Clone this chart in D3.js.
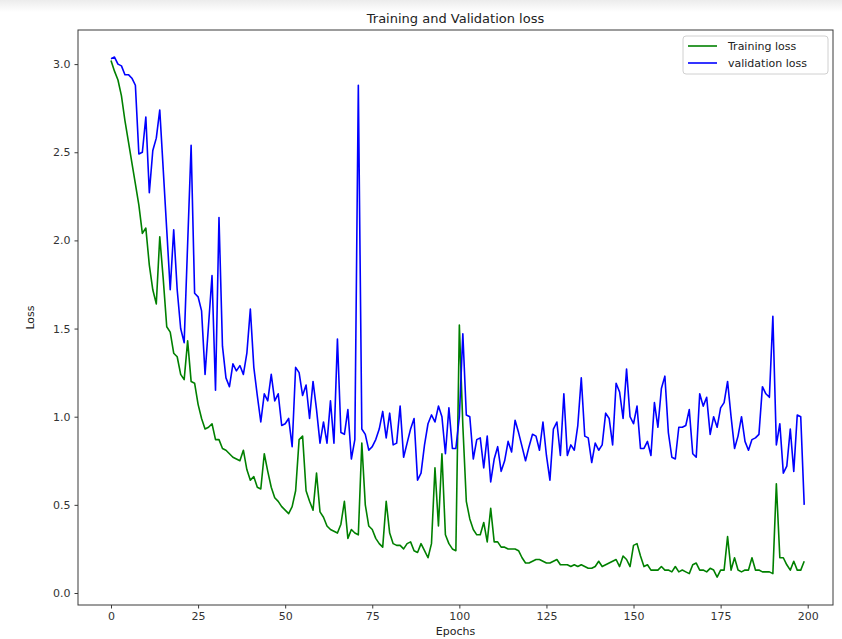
<!DOCTYPE html>
<html>
<head>
<meta charset="utf-8">
<script src="https://cdn.jsdelivr.net/npm/d3@7"></script>
<style>
  html, body { margin: 0; padding: 0; background: #ffffff; }
  svg { display: block; font-family: "DejaVu Sans", sans-serif; }
</style>
</head>
<body>
<svg id="chart" width="842" height="639"></svg>
<script>
const title = "Training and Validation loss";
const xLabel = "Epochs";
const yLabel = "Loss";
const seriesNames = ["Training loss", "validation loss"];
const xTicks = [0, 25, 50, 75, 100, 125, 150, 175, 200];
const yTicks = [0.0, 0.5, 1.0, 1.5, 2.0, 2.5, 3.0];

const trainingLoss = [
  3.02, 2.96, 2.91, 2.82, 2.68, 2.56, 2.44, 2.32, 2.20, 2.04,
  2.07, 1.86, 1.72, 1.64, 2.02, 1.78, 1.51, 1.48, 1.36, 1.34,
  1.24, 1.21, 1.43, 1.20, 1.19, 1.07, 0.99, 0.93, 0.94, 0.96,
  0.87, 0.87, 0.82, 0.81, 0.79, 0.77, 0.76, 0.75, 0.81, 0.70,
  0.64, 0.66, 0.60, 0.59, 0.79, 0.69, 0.60, 0.54, 0.52, 0.49,
  0.47, 0.45, 0.49, 0.58, 0.87, 0.89, 0.58, 0.52, 0.47, 0.68,
  0.46, 0.43, 0.38, 0.36, 0.35, 0.34, 0.39, 0.52, 0.31, 0.36,
  0.34, 0.33, 0.85, 0.50, 0.38, 0.36, 0.31, 0.28, 0.26, 0.52,
  0.34, 0.28, 0.27, 0.27, 0.25, 0.28, 0.29, 0.24, 0.23, 0.28,
  0.24, 0.20, 0.28, 0.71, 0.38, 0.79, 0.33, 0.28, 0.25, 0.24,
  1.52, 0.95, 0.52, 0.42, 0.36, 0.33, 0.33, 0.40, 0.29, 0.48,
  0.29, 0.29, 0.26, 0.26, 0.25, 0.25, 0.25, 0.24, 0.20, 0.17,
  0.17, 0.18, 0.19, 0.19, 0.18, 0.17, 0.17, 0.18, 0.19, 0.16,
  0.16, 0.16, 0.15, 0.16, 0.15, 0.16, 0.15, 0.14, 0.14, 0.15,
  0.18, 0.15, 0.16, 0.17, 0.18, 0.19, 0.15, 0.21, 0.19, 0.15,
  0.27, 0.28, 0.21, 0.15, 0.16, 0.13, 0.13, 0.13, 0.15, 0.13,
  0.13, 0.12, 0.15, 0.12, 0.13, 0.12, 0.11, 0.16, 0.17, 0.13,
  0.13, 0.12, 0.14, 0.13, 0.09, 0.13, 0.13, 0.32, 0.13, 0.20,
  0.13, 0.12, 0.13, 0.13, 0.20, 0.13, 0.13, 0.12, 0.12, 0.12,
  0.11, 0.62, 0.20, 0.20, 0.16, 0.13, 0.18, 0.13, 0.13, 0.18
];

const validationLoss = [
  3.03, 3.04, 3.00, 2.99, 2.94, 2.94, 2.92, 2.88, 2.49, 2.50,
  2.70, 2.27, 2.51, 2.58, 2.74, 2.40, 2.06, 1.72, 2.06, 1.72,
  1.50, 1.42, 1.98, 2.54, 1.70, 1.68, 1.60, 1.24, 1.52, 1.80,
  1.15, 2.13, 1.40, 1.22, 1.17, 1.30, 1.26, 1.29, 1.24, 1.36,
  1.61, 1.28, 1.12, 0.97, 1.13, 1.09, 1.24, 1.09, 1.13, 0.95,
  0.96, 0.99, 0.83, 1.28, 1.25, 1.12, 1.18, 0.99, 1.20, 1.04,
  0.85, 0.97, 0.85, 1.09, 0.85, 1.44, 0.91, 0.90, 1.04, 0.76,
  0.87, 2.88, 0.93, 0.90, 0.81, 0.83, 0.87, 0.93, 1.03, 0.88,
  1.02, 0.84, 0.85, 1.06, 0.77, 0.85, 0.93, 0.99, 0.64, 0.68,
  0.84, 0.96, 1.01, 0.97, 1.06, 1.00, 0.79, 1.05, 0.82, 0.82,
  1.00, 1.47, 1.01, 1.00, 0.76, 0.87, 0.88, 0.71, 0.89, 0.63,
  0.76, 0.83, 0.69, 0.75, 0.86, 0.80, 0.98, 0.91, 0.83, 0.75,
  0.83, 0.90, 0.89, 0.81, 0.97, 0.78, 0.64, 0.93, 0.97, 0.78,
  1.13, 0.78, 0.84, 0.81, 0.95, 1.22, 0.89, 0.88, 0.74, 0.85,
  0.81, 0.84, 1.02, 0.99, 0.84, 1.19, 1.14, 0.99, 1.27, 1.00,
  0.96, 1.06, 0.82, 0.82, 0.86, 0.78, 1.08, 0.94, 1.16, 1.23,
  0.91, 0.77, 0.76, 0.94, 0.94, 0.95, 1.04, 0.79, 0.77, 1.13,
  1.06, 1.11, 0.90, 1.00, 0.94, 1.05, 1.08, 1.20, 1.00, 0.82,
  0.89, 1.00, 0.86, 0.81, 0.87, 0.88, 0.90, 1.17, 1.13, 1.11,
  1.57, 0.84, 0.96, 0.68, 0.72, 0.93, 0.69, 1.01, 1.00, 0.50
];

const epochs = d3.range(trainingLoss.length);
const colors = ["#008000", "#0000ff"];

const svg = d3.select("#chart");
const W = 842, H = 639;
const plot = { left: 78, right: 833, top: 30, bottom: 605 };

// subtle screenshot-like top shade
const defs = svg.append("defs");
const grad = defs.append("linearGradient").attr("id", "topShade").attr("x1", 0).attr("y1", 0).attr("x2", 0).attr("y2", 1);
grad.append("stop").attr("offset", "0%").attr("stop-color", "#ececec");
grad.append("stop").attr("offset", "100%").attr("stop-color", "#ffffff");
svg.append("rect").attr("x", 0).attr("y", 0).attr("width", W).attr("height", 12).attr("fill", "url(#topShade)");

const x = d3.scaleLinear()
  .domain([(plot.left - 111) / 3.4835, (plot.right - 111) / 3.4835])
  .range([plot.left, plot.right]);
const y = d3.scaleLinear()
  .domain([(593 - plot.bottom) / 176.3, (593 - plot.top) / 176.3])
  .range([plot.bottom, plot.top]);

// frame
svg.append("rect")
  .attr("x", plot.left).attr("y", plot.top)
  .attr("width", plot.right - plot.left).attr("height", plot.bottom - plot.top)
  .attr("fill", "#ffffff").attr("stroke", "#3a3a3a").attr("stroke-width", 1);

// axes
const xAxis = svg.append("g")
  .attr("transform", `translate(0,${plot.bottom})`)
  .call(d3.axisBottom(x).tickValues(xTicks).tickFormat(d3.format("d")).tickSizeOuter(0).tickSize(3.5).tickPadding(4));
const yAxis = svg.append("g")
  .attr("transform", `translate(${plot.left},0)`)
  .call(d3.axisLeft(y).tickValues(yTicks).tickFormat(d3.format(".1f")).tickSizeOuter(0).tickSize(3.5).tickPadding(4));
[xAxis, yAxis].forEach(g => {
  g.select(".domain").remove();
  g.selectAll(".tick line").attr("stroke", "#3a3a3a");
  g.selectAll(".tick text").attr("fill", "#333").style("font-size", "11px").style("font-family", "DejaVu Sans, sans-serif");
});

// lines
const line = d3.line().x((d, i) => x(epochs[i])).y(d => y(d));
[trainingLoss, validationLoss].forEach((s, k) => {
  svg.append("path")
    .datum(s)
    .attr("fill", "none")
    .attr("stroke", colors[k])
    .attr("stroke-width", 1.6)
    .attr("stroke-linejoin", "round")
    .attr("d", line);
});

// title & labels
svg.append("text")
  .attr("x", (plot.left + plot.right) / 2).attr("y", 23)
  .attr("text-anchor", "middle").attr("fill", "#222")
  .style("font-size", "13px")
  .text(title);
svg.append("text")
  .attr("x", (plot.left + plot.right) / 2).attr("y", 635)
  .attr("text-anchor", "middle").attr("fill", "#222")
  .style("font-size", "11px")
  .text(xLabel);
svg.append("text")
  .attr("transform", `translate(34,${(plot.top + plot.bottom) / 2}) rotate(-90)`)
  .attr("text-anchor", "middle").attr("fill", "#222")
  .style("font-size", "11px")
  .text(yLabel);

// legend
const lg = svg.append("g");
lg.append("rect")
  .attr("x", 683).attr("y", 36).attr("width", 145).attr("height", 38)
  .attr("rx", 3).attr("fill", "#ffffff").attr("fill-opacity", 0.85)
  .attr("stroke", "#d0d0d0").attr("stroke-width", 1);
seriesNames.forEach((name, k) => {
  const yy = 46 + k * 17;
  lg.append("line")
    .attr("x1", 688).attr("x2", 717).attr("y1", yy).attr("y2", yy)
    .attr("stroke", colors[k]).attr("stroke-width", 1.6);
  lg.append("text")
    .attr("x", 728).attr("y", yy + 4)
    .attr("fill", "#222").style("font-size", "11px")
    .text(name);
});
</script>
</body>
</html>
